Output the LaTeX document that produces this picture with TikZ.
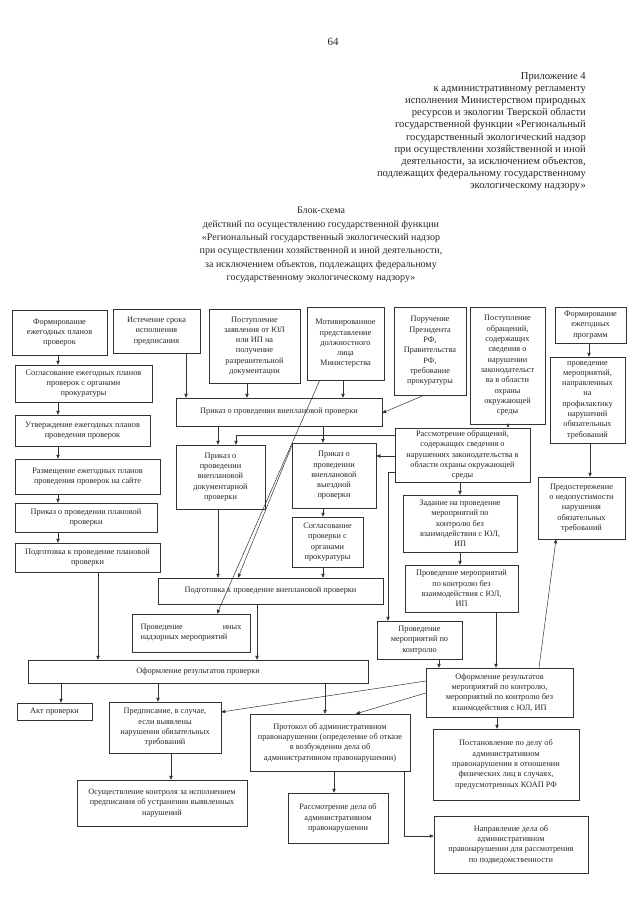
\documentclass[tikz,border=0pt]{standalone}
\usepackage{fontspec}
\setmainfont{Liberation Serif}
\usetikzlibrary{arrows.meta}
\tikzset{
  blk/.style={draw=black!80, line width=0.5pt, align=center, inner sep=1pt,
    text=black!85, font=\fontsize{8.3}{10.3}\selectfont},
  arr/.style={draw=black!80, line width=0.5pt, -{Triangle[length=4pt,width=3.4pt]}}
}
\newcommand{\bx}[6]{\node[blk, minimum width={#4-#2}, minimum height={#5-#3}] (#1) at ({(#2+#4)/2},{(#3+#5)/2}) {#6};}
\begin{document}
\begin{tikzpicture}[x=1pt,y=-1pt]
\useasboundingbox (0,0) rectangle (640,905);

\node[text=black!85, font=\fontsize{11}{12}\selectfont] (pg) at (333,42) {64};
\node[anchor=north east, align=right, inner sep=0pt, text=black!85, font=\fontsize{10.6}{12.2}\selectfont] (app) at (586,72) {Приложение 4\\
к административному регламенту\\
исполнения Министерством природных\\
ресурсов и экологии Тверской области\\
государственной функции «Региональный\\
государственный экологический надзор\\
при осуществлении хозяйственной и иной\\
деятельности, за исключением объектов,\\
подлежащих федеральному государственному\\
экологическому надзору»};
\node[anchor=north, align=center, inner sep=0pt, text=black!85, font=\fontsize{10}{13.4}\selectfont] (ttl) at (321,207) {Блок-схема\\
действий по осуществлению государственной функции\\
«Региональный государственный экологический надзор\\
при осуществлении хозяйственной и иной деятельности,\\
за исключением объектов, подлежащих федеральному\\
государственному экологическому надзору»};

\bx{formplan}{12}{310}{107}{355}{Формирование\\ежегодных планов\\проверок}
\bx{istech}{113}{309}{200}{353}{Истечение срока\\исполнения\\предписания}
\bx{zayav}{209}{309}{300}{383}{Поступление\\заявления от ЮЛ\\или ИП на\\получение\\разрешительной\\документации}
\bx{motiv}{307}{307}{384}{380}{Мотивированное\\представление\\должностного\\лица\\Министерства}
\bx{poruch}{394}{307}{466}{395}{Поручение\\Президента\\РФ,\\Правительства\\РФ,\\требование\\прокуратуры}
\bx{obrasch}{470}{307}{545}{424}{Поступление\\обращений,\\содержащих\\сведения о\\нарушении\\законодательст\\ва в области\\охраны\\окружающей\\среды}
\bx{formprog}{555}{307}{626}{343}{Формирование\\ежегодных\\программ}
\bx{profil}{550}{357}{625}{443}{проведение\\мероприятий,\\направленных\\на\\профилактику\\нарушений\\обязательных\\требований}
\bx{soglas}{15}{365}{152}{402}{Согласование ежегодных планов\\проверок с органами\\прокуратуры}
\bx{utv}{15}{415}{150}{446}{Утверждение ежегодных планов\\проведения проверок}
\bx{razm}{15}{459}{160}{494}{Размещение ежегодных планов\\проведения проверок на сайте}
\bx{prikplan}{15}{503}{157}{532}{Приказ о проведении плановой\\проверки}
\bx{podgplan}{15}{543}{160}{572}{Подготовка к проведение плановой\\проверки}
\bx{prikvnepl}{176}{398}{382}{426}{Приказ о проведении внеплановой проверки}
\bx{dokum}{176}{445}{265}{509}{Приказ о\\проведении\\внеплановой\\документарной\\проверки}
\bx{vyezd}{292}{443}{376}{508}{Приказ о\\проведении\\внеплановой\\выездной\\проверки}
\bx{rassm}{395}{428}{530}{482}{Рассмотрение обращений,\\содержащих сведения о\\нарушениях законодательства в\\области охраны окружающей\\среды}
\bx{zadan}{403}{495}{517}{552}{Задание на проведение\\мероприятий по\\контролю без\\взаимодействия с ЮЛ,\\ИП}
\bx{provbez}{405}{565}{518}{612}{Проведение мероприятий\\по контролю без\\взаимодействия с ЮЛ,\\ИП}
\bx{soglvyezd}{292}{517}{363}{567}{Согласование\\проверки с\\органами\\прокуратуры}
\bx{podgvnepl}{158}{578}{383}{604}{Подготовка к проведение внеплановой проверки}
\node[blk, align=left, minimum width=118, minimum height=38] (inye) at (191,633) {Проведение\hspace{40pt}иных\\надзорных мероприятий};
\bx{provkontr}{377}{621}{462}{659}{Проведение\\мероприятий по\\контролю}
\bx{oformprov}{28}{660}{368}{683}{Оформление результатов проверки}
\bx{oformmer}{426}{668}{573}{717}{Оформление результатов\\мероприятий по контролю,\\мероприятий по контролю без\\взаимодействия с ЮЛ, ИП}
\bx{predost}{538}{477}{625}{539}{Предостережение\\о недопустимости\\нарушения\\обязательных\\требований}
\bx{akt}{17}{703}{92}{720}{Акт проверки}
\bx{predpis}{109}{702}{221}{753}{Предписание, в случае,\\если выявлены\\нарушения обязательных\\требований}
\bx{protokol}{250}{714}{410}{771}{Протокол об административном\\правонарушении (определение об отказе\\в возбуждении дела об\\административном правонарушении)}
\bx{rassmdela}{288}{793}{388}{843}{Рассмотрение дела об\\административном\\правонарушении}
\bx{postan}{433}{729}{579}{800}{Постановление по делу об\\административном\\правонарушении в отношении\\физических лиц в случаях,\\предусмотренных КОАП РФ}
\bx{napravl}{434}{816}{588}{873}{Направление дела об\\административном\\правонарушении для рассмотрения\\по подведомственности}
\bx{kontrol}{77}{780}{247}{826}{Осуществление контроля за исполнением\\предписания об устранении выявленных\\нарушений}

\draw[arr] (formplan.south -| 58,0) -- (soglas.north -| 58,0);
\draw[arr] (soglas.south -| 58,0) -- (utv.north -| 58,0);
\draw[arr] (utv.south -| 58,0) -- (razm.north -| 58,0);
\draw[arr] (razm.south -| 58,0) -- (prikplan.north -| 58,0);
\draw[arr] (prikplan.south -| 58,0) -- (podgplan.north -| 58,0);
\draw[arr] (podgplan.south -| 98,0) -- (oformprov.north -| 98,0);
\draw[arr] (formprog.south -| 589,0) -- (profil.north -| 589,0);
\draw[arr] (profil.south -| 590,0) -- (predost.north -| 590,0);
\draw[arr] (istech.south -| 186,0) -- (prikvnepl.north -| 186,0);
\draw[arr] (zayav.south -| 247,0) -- (prikvnepl.north -| 247,0);
\draw[arr] (motiv.south -| 343,0) -- (prikvnepl.north -| 343,0);
\draw[arr] ([xshift=-6pt]poruch.south) -- (prikvnepl.east |- 0,413);
\draw[arr] ([xshift=13pt]motiv.south west) -- (inye.north -| 217,0);
\draw[arr] (prikvnepl.south -| 218,0) -- (dokum.north -| 218,0);
\draw[arr] (rassm.west |- 0,435) -| (dokum.north -| 236,0);
\draw[arr] (prikvnepl.south -| 323,0) -- (vyezd.north -| 323,0);
\draw[arr] (rassm.west |- 0,456) -- (vyezd.east |- 0,456);
\draw[arr] (rassm.west |- 0,472) -| (provkontr.north -| 388,0);
\draw[arr] (obrasch.south -| 508,0) -- (rassm.north -| 508,0);
\draw[arr] (rassm.south -| 460,0) -- (zadan.north -| 460,0);
\draw[arr] (zadan.south -| 460,0) -- (provbez.north -| 460,0);
\draw[arr] (provbez.south -| 496,0) -- (oformmer.north -| 496,0);
\draw[arr] (provkontr.south -| 439,0) -- (oformmer.north -| 439,0);
\draw[arr] (oformmer.north -| 539,0) -- (predost.south -| 556,0);
\draw[arr] ([yshift=-3pt]vyezd.north west) -- (podgvnepl.north -| 238,0);
\draw[arr] (dokum.south -| 218,0) -- (podgvnepl.north -| 218,0);
\draw[arr] (vyezd.south -| 323,0) -- (soglvyezd.north -| 323,0);
\draw[arr] (soglvyezd.south -| 323,0) -- (podgvnepl.north -| 323,0);
\draw[arr] (podgvnepl.south -| 257,0) -- (oformprov.north -| 257,0);
\draw[arr] (oformprov.south -| 61,0) -- (akt.north -| 61,0);
\draw[arr] (oformprov.south -| 158,0) -- (predpis.north -| 158,0);
\draw[arr] (oformprov.south -| 325,0) -- (protokol.north -| 325,0);
\draw[arr] (oformmer.west |- 0,681) -- (predpis.east |- 0,712);
\draw[arr] (oformmer.west |- 0,693) -- (protokol.north -| 356,0);
\draw[arr] (oformmer.south -| 497,0) -- (postan.north -| 497,0);
\draw[arr] (predpis.south -| 171,0) -- (kontrol.north -| 171,0);
\draw[arr] (protokol.south -| 334,0) -- (rassmdela.north -| 334,0);
\draw[arr] (protokol.south -| 404,0) |- (napravl.west |- 0,836);
\end{tikzpicture}
\end{document}
